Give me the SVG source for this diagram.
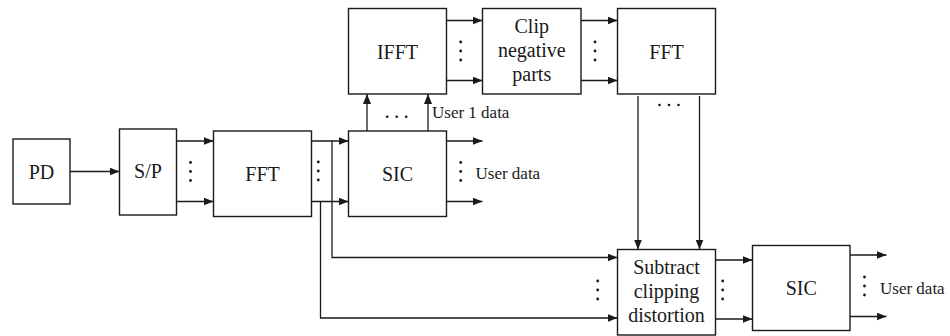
<svg xmlns="http://www.w3.org/2000/svg" width="950" height="336" viewBox="0 0 950 336">
  <style>
    .box { fill: #ffffff; stroke: #1a1a1a; stroke-width: 1.4; }
    .lbl { font-family: "Liberation Serif", "Times New Roman", serif; font-size: 20px; fill: #1a1a1a; text-anchor: middle; }
    .sm { font-family: "Liberation Serif", "Times New Roman", serif; font-size: 17px; fill: #1a1a1a; }
    .wire { fill: none; stroke: #1a1a1a; stroke-width: 1.3; }
    .arr { marker-end: url(#head); }
    .dot { fill: #1a1a1a; }
  </style>
  <defs>
    <marker id="head" markerUnits="userSpaceOnUse" markerWidth="11" markerHeight="9" refX="10" refY="4" orient="auto">
      <path d="M0,0 L10,4 L0,8 z" fill="#1a1a1a"/>
    </marker>
    <g id="vdots">
      <circle cx="0" cy="-9" r="1.4"/>
      <circle cx="0" cy="0" r="1.4"/>
      <circle cx="0" cy="9" r="1.4"/>
    </g>
    <g id="hdots">
      <circle cx="-9.5" cy="0" r="1.3"/>
      <circle cx="0" cy="0" r="1.3"/>
      <circle cx="9.5" cy="0" r="1.3"/>
    </g>
  </defs>

  <!-- connectors -->
  <g id="connectors">
    <path class="wire arr" d="M70,171.5 H119.5"/>
    <path class="wire arr" d="M176.5,141 H213.5"/>
    <path class="wire arr" d="M176.5,201.5 H213.5"/>
    <path class="wire arr" d="M311.5,141 H348.5"/>
    <path class="wire arr" d="M311.5,201.5 H348.5"/>
    <path class="wire arr" d="M332,141 V257.5 H617.5"/>
    <path class="wire arr" d="M320.5,201.5 V318 H617.5"/>
    <path class="wire arr" d="M446.5,141 H482.5"/>
    <path class="wire arr" d="M446.5,201.5 H482.5"/>
    <path class="wire arr" d="M367,131 V94"/>
    <path class="wire arr" d="M428,131 V94"/>
    <path class="wire arr" d="M446.5,20.5 H482.5"/>
    <path class="wire arr" d="M446.5,80.5 H482.5"/>
    <path class="wire arr" d="M581,20.5 H617.5"/>
    <path class="wire arr" d="M581,80.5 H617.5"/>
    <path class="wire arr" d="M638,96 V249.5"/>
    <path class="wire arr" d="M699.5,96 V249.5"/>
    <path class="wire arr" d="M715.5,260 H752.5"/>
    <path class="wire arr" d="M715.5,319 H752.5"/>
    <path class="wire arr" d="M850,255 H886.5"/>
    <path class="wire arr" d="M850,316.5 H886.5"/>

    <!-- ellipsis marks between parallel lines -->
    <g class="dot">
      <use href="#vdots" x="190.5" y="171.5"/>
      <use href="#vdots" x="318.3" y="171"/>
      <use href="#vdots" x="460.7" y="171.5"/>
      <use href="#vdots" x="460.7" y="51"/>
      <use href="#vdots" x="595" y="51"/>
      <use href="#vdots" x="597.7" y="290"/>
      <use href="#vdots" x="722.7" y="290"/>
      <use href="#vdots" x="864.5" y="286"/>
      <use href="#hdots" x="396.7" y="116.7"/>
      <use href="#hdots" x="669" y="105"/>
    </g>

    <text class="sm" x="432" y="118">User 1 data</text>
    <text class="sm" x="475.5" y="179">User data</text>
    <text class="sm" x="880" y="293.5">User data</text>
  </g>

  <!-- blocks -->
  <g id="pd">
    <rect class="box" x="13" y="139" width="57" height="65"/>
    <text class="lbl" x="41.5" y="178.5">PD</text>
  </g>
  <g id="sp">
    <rect class="box" x="119.5" y="129" width="57" height="86"/>
    <text class="lbl" x="148" y="177.5">S/P</text>
  </g>
  <g id="fft1">
    <rect class="box" x="213.5" y="131" width="98" height="85.5"/>
    <text class="lbl" x="262.5" y="180.5">FFT</text>
  </g>
  <g id="sic1">
    <rect class="box" x="348.5" y="131" width="98" height="85.5"/>
    <text class="lbl" x="397.5" y="180.5">SIC</text>
  </g>
  <g id="ifft">
    <rect class="box" x="348.5" y="8.5" width="98" height="85.5"/>
    <text class="lbl" x="397.5" y="58.5">IFFT</text>
  </g>
  <g id="clip">
    <rect class="box" x="482.5" y="8.5" width="98.5" height="85.5"/>
    <text class="lbl" x="531.75" y="32.5">Clip</text>
    <text class="lbl" x="531.75" y="56.5">negative</text>
    <text class="lbl" x="531.75" y="80.5">parts</text>
  </g>
  <g id="fft2">
    <rect class="box" x="617.5" y="8.5" width="98" height="85.5"/>
    <text class="lbl" x="666.5" y="58.5">FFT</text>
  </g>
  <g id="subtract">
    <rect class="box" x="617.5" y="249.5" width="98" height="85.5"/>
    <text class="lbl" x="666.5" y="273.5">Subtract</text>
    <text class="lbl" x="666.5" y="297.5">clipping</text>
    <text class="lbl" x="666.5" y="321.5">distortion</text>
  </g>
  <g id="sic2">
    <rect class="box" x="752.5" y="245.5" width="97.5" height="85"/>
    <text class="lbl" x="801.25" y="294.5">SIC</text>
  </g>
</svg>
